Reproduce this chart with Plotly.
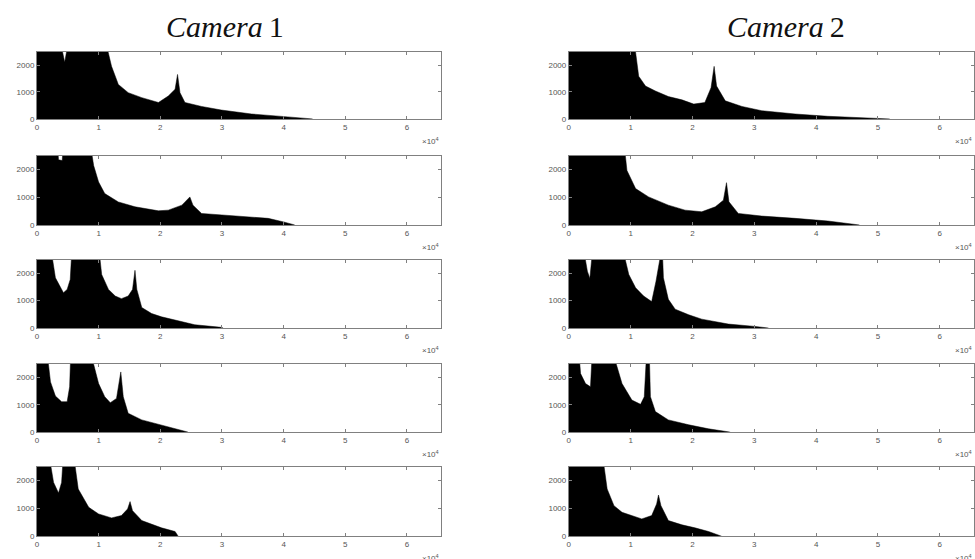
import plotly.graph_objects as go

# ---------------- data (pixel intensity vs count); 3000 = off-scale (clipped at 2500)
cam1_r1_x = [0, 3700, 4500, 5200, 11000, 12100, 13200, 14800, 17000, 19700, 21300, 22400, 22800, 23200, 24000, 26700, 29900, 34800, 40200, 44700]
cam1_r1_y = [3000, 3000, 2100, 3000, 3000, 1950, 1280, 975, 790, 610, 850, 1100, 1650, 975, 610, 463, 330, 183, 85, 0]

cam1_r2_x = [0, 3300, 3500, 4100, 4300, 8600, 9200, 10000, 11000, 13200, 15900, 19700, 21300, 23500, 24800, 25300, 26700, 32100, 37500, 40000, 41800]
cam1_r2_y = [3000, 3000, 2350, 2320, 3000, 3000, 2140, 1550, 1130, 830, 655, 510, 535, 715, 1010, 715, 415, 333, 238, 110, 0]

cam1_r3_x = [0, 2200, 3000, 3800, 4300, 4900, 5400, 5700, 10000, 10500, 11600, 12700, 13700, 14800, 15500, 15900, 16200, 17000, 18600, 20200, 22900, 25600, 29900, 30200]
cam1_r3_y = [3000, 3000, 1835, 1473, 1290, 1413, 1775, 3000, 3000, 1956, 1413, 1170, 1075, 1170, 1413, 2110, 1413, 750, 530, 410, 265, 120, 25, 0]

cam1_r4_x = [0, 1600, 2200, 3000, 4000, 4900, 5300, 5500, 8600, 10000, 11000, 11900, 12900, 13600, 14000, 14800, 17000, 19700, 21800, 24500]
cam1_r4_y = [3000, 3000, 1835, 1316, 1111, 1111, 1655, 3000, 3000, 1775, 1292, 1075, 1232, 2200, 1292, 688, 447, 290, 145, 0]

cam1_r5_x = [0, 1900, 2700, 3500, 4000, 4300, 5900, 6700, 8400, 10000, 12100, 13700, 14700, 15100, 15500, 17000, 20200, 22400, 22900]
cam1_r5_y = [3000, 3000, 1938, 1555, 1938, 3000, 3000, 1700, 1040, 800, 658, 742, 980, 1245, 920, 562, 300, 167, 0]

cam2_r1_x = [0, 10500, 11300, 12400, 14000, 16100, 18300, 20200, 22000, 23000, 23500, 23900, 25300, 28000, 31200, 36600, 41900, 47300, 51900]
cam2_r1_y = [3000, 3000, 1585, 1220, 1037, 830, 707, 550, 610, 1160, 1950, 1220, 670, 463, 305, 183, 98, 50, 0]

cam2_r2_x = [0, 8900, 9400, 10800, 12900, 16100, 18800, 21500, 23700, 25000, 25500, 25900, 27400, 31200, 36600, 41900, 47000]
cam2_r2_y = [3000, 3000, 1964, 1310, 1012, 714, 535, 476, 655, 893, 1524, 833, 417, 321, 238, 143, 0]

cam2_r3_x = [0, 2300, 3000, 3400, 3900, 8600, 9700, 10800, 12100, 13400, 14100, 14800, 15100, 15300, 16100, 17200, 19400, 21500, 25800, 30100, 32300]
cam2_r3_y = [3000, 3000, 2077, 1812, 3000, 3000, 1956, 1473, 1170, 966, 1715, 3000, 3000, 1835, 1050, 688, 483, 326, 145, 60, 0]

cam2_r4_x = [0, 1600, 1900, 2700, 3500, 3800, 7000, 8600, 10200, 11600, 12200, 12600, 13000, 13200, 14000, 16100, 19400, 22600, 26100]
cam2_r4_y = [3000, 3000, 2138, 1775, 1655, 3000, 3000, 1775, 1171, 1014, 1292, 3000, 3000, 1292, 749, 447, 266, 120, 0]

cam2_r5_x = [0, 5400, 6200, 7300, 8600, 10800, 11800, 13400, 14200, 14500, 14900, 16100, 18300, 20400, 22600, 24700]
cam2_r5_y = [3000, 3000, 1700, 1100, 860, 680, 622, 742, 1160, 1483, 1100, 562, 407, 300, 167, 0]

column_titles = ["<i>Camera</i>\u20091", "<i>Camera</i>\u20092"]
x_tick_vals = [0, 10000, 20000, 30000, 40000, 50000, 60000]
x_tick_text = ["0", "1", "2", "3", "4", "5", "6"]
y_tick_vals = [0, 1000, 2000]
y_tick_text = ["0", "1000", "2000"]

panels = [
    [(cam1_r1_x, cam1_r1_y), (cam1_r2_x, cam1_r2_y), (cam1_r3_x, cam1_r3_y), (cam1_r4_x, cam1_r4_y), (cam1_r5_x, cam1_r5_y)],
    [(cam2_r1_x, cam2_r1_y), (cam2_r2_x, cam2_r2_y), (cam2_r3_x, cam2_r3_y), (cam2_r4_x, cam2_r4_y), (cam2_r5_x, cam2_r5_y)],
]

# ---------------- layout
W, H = 975, 559
col_px = [(35, 440), (568, 974)]
row_px = [(52, 120), (157, 227), (262, 331), (367, 436), (471, 541)]

fig = go.Figure()
layout = dict(
    width=W, height=H, margin=dict(l=0, r=0, t=0, b=0),
    paper_bgcolor="white", plot_bgcolor="white", showlegend=False,
    font=dict(family="Liberation Sans, Arial, sans-serif", size=8, color="#555"),
)
annotations = []
k = 0
for c in range(2):
    for r in range(5):
        k += 1
        xa = "x" if k == 1 else f"x{k}"
        ya = "y" if k == 1 else f"y{k}"
        xs, ys = panels[c][r]
        fig.add_trace(go.Scatter(
            x=xs, y=ys, mode="lines", fill="tozeroy",
            line=dict(color="black", width=0.5), fillcolor="black",
            xaxis=xa, yaxis=ya, hoverinfo="skip"))
        x0, x1 = col_px[c]
        t, b = row_px[r]
        common = dict(showgrid=False, zeroline=False, showline=True, mirror="ticks",
                      linecolor="#808080", linewidth=1, ticks="inside", ticklen=3,
                      tickcolor="#808080", tickfont=dict(size=8, color="#555"))
        layout["xaxis" if k == 1 else f"xaxis{k}"] = dict(
            domain=[x0 / W, x1 / W], range=[0, 65535], anchor=ya,
            tickvals=x_tick_vals, ticktext=x_tick_text, **common)
        layout["yaxis" if k == 1 else f"yaxis{k}"] = dict(
            domain=[1 - b / H, 1 - t / H], range=[0, 2500], anchor=xa,
            tickvals=y_tick_vals, ticktext=y_tick_text, **common)
        annotations.append(dict(
            text="\u00d710<sup>4</sup>", xref="paper", yref="paper",
            x=x1 / W, y=1 - (b + 22) / H, xanchor="right", yanchor="middle",
            showarrow=False, font=dict(size=8, color="#555")))

title_centers = [223, 786]
for c in range(2):
    annotations.append(dict(
        text=column_titles[c], xref="paper", yref="paper",
        x=title_centers[c] / W, y=1 - 27 / H, xanchor="center", yanchor="middle",
        showarrow=False, font=dict(family="Liberation Serif, Times New Roman, serif", size=30, color="#111")))

layout["annotations"] = annotations
fig.update_layout(**layout)
fig.write_html("out.html", config={"displayModeBar": False},
               post_script="document.body.style.margin='0';document.body.style.overflow='hidden';")
